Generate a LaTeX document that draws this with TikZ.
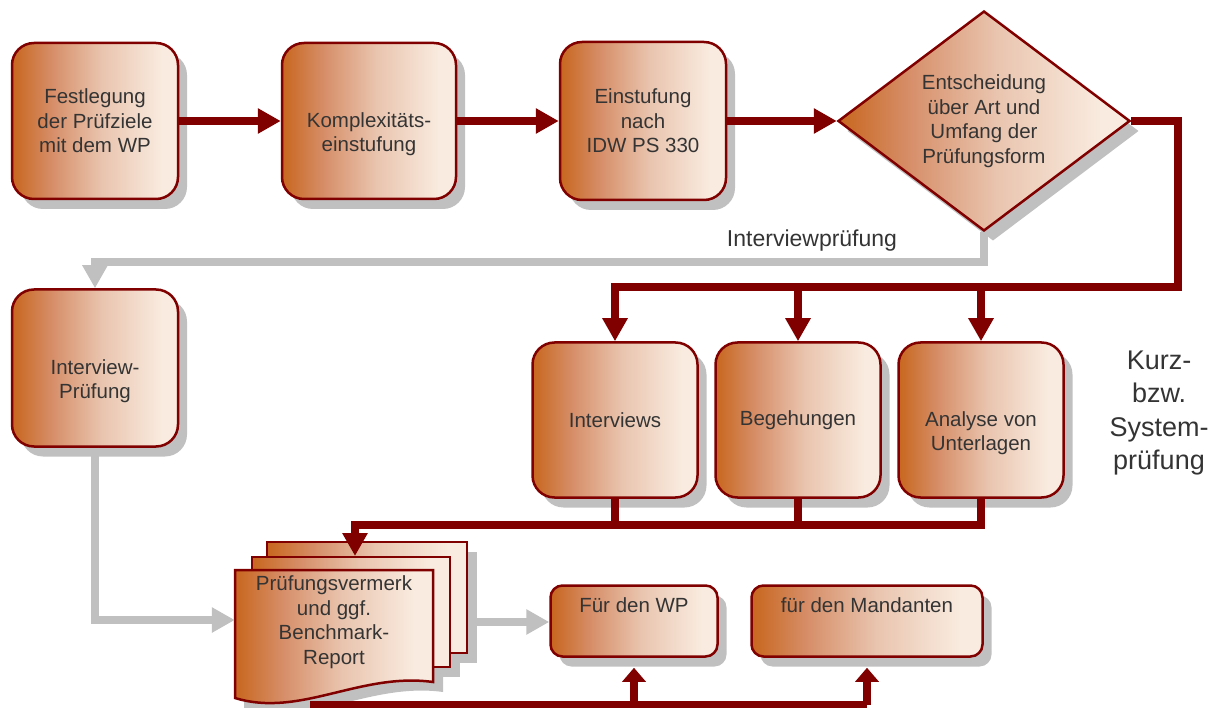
\documentclass[tikz,border=0pt]{standalone}
\usepackage{fontspec}
\setmainfont{Liberation Sans}
\usetikzlibrary{arrows.meta,shapes.geometric,shadows}
\definecolor{dred}{RGB}{128,0,0}
\definecolor{shgray}{RGB}{192,192,192}
\definecolor{cA}{RGB}{200,102,30}
\definecolor{cB}{RGB}{214,142,104}
\definecolor{cC}{RGB}{233,196,174}
\definecolor{cD}{RGB}{249,235,223}
\definecolor{tgray}{RGB}{52,52,52}
\pgfdeclarehorizontalshading{boxgrad}{100bp}{color(0bp)=(cA); color(25bp)=(cA); color(37bp)=(cB); color(52bp)=(cC); color(70bp)=(cD); color(100bp)=(cD)}
\begin{document}
\begin{tikzpicture}[x=1pt,y=-1pt,
  shdw/.style={drop shadow={shadow xshift=9pt, shadow yshift=-10pt, fill=shgray, opacity=1}},
  txt/.style={text=tgray, font=\fontsize{20.5pt}{24.5pt}\selectfont, align=center},
  box/.style={draw=dred, line width=2.5pt, shade, shading=boxgrad, rounded corners=22pt, shdw, txt, inner sep=0pt},
  sbox/.style={box, rounded corners=12pt},
  dia/.style={draw=dred, line width=2.5pt, shade, shading=boxgrad, shape=diamond, aspect=1.33, minimum width=292pt, minimum height=220pt, shdw, txt, inner sep=0pt},
  page/.style={draw=dred, line width=2.5pt, shade, shading=boxgrad},
  redln/.style={draw=dred, line width=8pt, line join=miter},
  redarr/.style={redln, -{Triangle[width=24pt,length=23pt]}},
  uparr/.style={redln, -{Triangle[width=23pt,length=14pt]}},
  grayarr/.style={draw=shgray, line width=8pt, line join=miter, -{Triangle[width=24pt,length=23pt]}}
]
\useasboundingbox (0,0) rectangle (1215,708);

% top row
\node[box, minimum width=166pt, minimum height=156pt] (b1) at (95,121) {Festlegung\\der Prüfziele\\mit dem WP};
\node[box, minimum width=174pt, minimum height=156pt] (b2) at (369,121) {\strut\\Komplexitäts-\\einstufung};
\node[box, minimum width=166pt, minimum height=158pt] (b3) at (643,121) {Einstufung\\nach\\IDW PS 330};
\node[dia] (d) at (984,121) {Entscheidung\\über Art und\\Umfang der\\Prüfungsform};

% left
\node[box, minimum width=166pt, minimum height=157pt] (ip) at (95,368) {\strut\\Interview-\\Prüfung};

% middle row
\node[box, minimum width=165pt, minimum height=155pt] (i1) at (615,420) {Interviews};
\node[box, minimum width=165pt, minimum height=155pt] (i2) at (798,420) {Begehungen};
\node[box, minimum width=165pt, minimum height=155pt] (i3) at (981,420) {\strut\\Analyse von\\Unterlagen};
\node[text=tgray, font=\fontsize{27pt}{33.5pt}\selectfont, align=center] (kz) at (1159,413) {Kurz-\\bzw.\\System-\\prüfung};

% document stack
\fill[shgray] (276,552) rectangle (477,663);
\fill[shgray] (261,567) rectangle (460,677);
\fill[shgray] (244,580) -- (443,580) -- (443,692) .. controls (370,682) and (310,728) .. (244,708) -- cycle;
\path[page] (267,542) rectangle (467,653);
\path[page] (252,557) rectangle (450,667);
\path[page] (235,570) -- (433,570) -- (433,682) .. controls (360,672) and (300,718) .. (235,698) -- cycle;
\node[txt, minimum width=198pt, minimum height=100pt, inner sep=0pt] (doc) at (334,622) {Prüfungsvermerk\\und ggf.\\Benchmark-\\Report};

% bottom boxes
\node[sbox, minimum width=167pt, minimum height=71pt] (fw) at (634,621) {Für den WP\\\strut};
\node[sbox, minimum width=231pt, minimum height=71pt] (fm) at (867,621) {für den Mandanten\\\strut};

% connectors top row
\draw[redarr] (b1.east) -- (b2.west);
\draw[redarr] (b2.east) -- (b3.west);
\draw[redarr] (b3.east) -- (d.west);

% decision to the three methods
\coordinate (rc) at (1178,287);
\draw[redarr] (d.east) -| (rc) -| (i1.north);
\draw[redarr] (i2.north |- rc) -- (i2.north);
\draw[redarr] (i3.north |- rc) -- (i3.north);

% interview path
\draw[grayarr] (d.south) -- ++(0,30) -| (ip.north);
\node[font=\fontsize{23pt}{27pt}\selectfont, text=tgray] (lbl) at (812,241) {Interviewprüfung};
\draw[grayarr] (ip.south) |- ([yshift=2pt]doc.west);

% methods to document
\coordinate (jn) at (355,525);
\coordinate (docin) at (355,556);
\draw[redarr] (i3.south) |- (jn) -- (docin);
\draw[redln] (i1.south) -- (i1.south |- jn);
\draw[redln] (i2.south) -- (i2.south |- jn);

% document to recipients
\coordinate (docr) at (472,622);
\draw[grayarr] (docr) -- (docr -| fw.west);
\coordinate (docb) at (310,705);
\draw[redln] (docb) -- (docb -| fm.south);
\draw[uparr] (fw.south |- docb) -- ([yshift=-10pt]fw.south);
\draw[uparr] (fm.south |- docb) -- ([yshift=-10pt]fm.south);
\end{tikzpicture}
\end{document}
